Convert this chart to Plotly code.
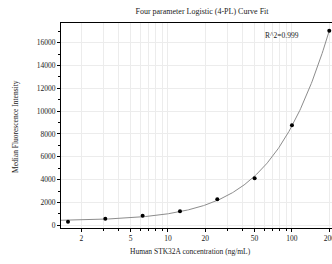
import numpy as np
import plotly.graph_objects as go

# Data
conc = [1.5625, 3.125, 6.25, 12.5, 25, 50, 100, 200]
mfi = [315, 578, 841, 1226, 2278, 4117, 8760, 17047]
x_tick_vals = [2, 5, 10, 20, 50, 100, 200]
x_tick_text = ["2", "5", "10", "20", "50", "100", "200"]
y_tick_vals = [0, 2000, 4000, 6000, 8000, 10000, 12000, 14000, 16000]
y_tick_text = ["0", "2000", "4000", "6000", "8000", "10000", "12000", "14000", "16000"]
r2_label = "R^2=0.999"

# 4PL fit: y = D + (A - D) / (1 + (x/C)^B); grid search over B, C, linear LS for A, D
xd = np.array(conc, dtype=float)
yd = np.array(mfi, dtype=float)
best = None
for B in np.linspace(0.5, 3.0, 126):
    for logC in np.linspace(0.5, 6.0, 221):
        C = 10 ** logC
        g = 1.0 / (1.0 + (xd / C) ** B)
        M = np.column_stack([g, 1 - g])
        coef, *_ = np.linalg.lstsq(M, yd, rcond=None)
        res = np.sum((M @ coef - yd) ** 2)
        if best is None or res < best[0]:
            best = (res, B, C, coef[0], coef[1])
_, B, C, A, D = best
xf = np.logspace(np.log10(1.37), np.log10(200), 300)
yf = D + (A - D) / (1 + (xf / C) ** B)

serif = "Liberation Serif"
txt = "#1a1a1a"
fig = go.Figure()
fig.add_trace(go.Scatter(x=xf, y=yf, mode="lines",
                         line=dict(color="#8c8c8c", width=1), hoverinfo="skip"))
fig.add_trace(go.Scatter(x=conc, y=mfi, mode="markers", cliponaxis=False,
                         marker=dict(color="black", size=4)))

minor_x = [v * m for m in (1, 10, 100) for v in range(1, 10)]
minor_x = [v for v in minor_x if 1.3 < v < 220]

W, H = 332, 264
L, T, R, Bm = 61, 23, 0, 36
pw, ph = W - L - R, H - T - Bm

fig.update_layout(
    width=W, height=H,
    margin=dict(l=L, r=R, t=T, b=Bm),
    paper_bgcolor="white", plot_bgcolor="white",
    showlegend=False, hovermode=False,
    font=dict(family=serif, size=7.5, color=txt),
    title=dict(text="Four parameter Logistic (4-PL) Curve Fit",
               x=202 / W, xanchor="center", y=1 - 11 / H, yanchor="middle",
               font=dict(family=serif, size=8, color=txt)),
    xaxis=dict(
        type="log", range=[0.1374, 2.323], automargin=False,
        tickmode="array", tickvals=x_tick_vals, ticktext=x_tick_text,
        ticklabeloverflow="allow",
        ticks="outside", ticklen=3, tickcolor="black",
        showline=True, linecolor="black", linewidth=1, mirror=True,
        showgrid=True, gridcolor="#ececec", gridwidth=1,
        minor=dict(tickmode="array", tickvals=minor_x, ticks="outside",
                   ticklen=2, tickcolor="black", showgrid=True,
                   gridcolor="#ececec", gridwidth=1),
        zeroline=False,
        tickfont=dict(family=serif, size=7.5, color=txt),
    ),
    yaxis=dict(
        range=[-237, 17721], automargin=False,
        tickmode="array", tickvals=y_tick_vals, ticktext=y_tick_text,
        ticks="outside", ticklen=3, tickcolor="black",
        showline=True, linecolor="black", linewidth=1, mirror=True,
        showgrid=True, gridcolor="#ececec", gridwidth=1,
        minor=dict(dtick=1000, ticks="outside", ticklen=2,
                   tickcolor="black", showgrid=False),
        zeroline=False,
        tickfont=dict(family=serif, size=7.5, color=txt),
    ),
    annotations=[
        dict(x=1.919, y=16600, xref="x", yref="y", text=r2_label,
             showarrow=False, font=dict(family=serif, size=7.5, color=txt)),
        dict(x=(190 - L) / pw, y=-(251.5 - T - ph) / ph, xref="paper", yref="paper",
             text="Human STK32A concentration (ng/mL)", showarrow=False,
             xanchor="center", yanchor="middle",
             font=dict(family=serif, size=7.5, color=txt)),
        dict(x=(15 - L) / pw, y=1 - (127 - T) / ph, xref="paper", yref="paper",
             text="Median Fluorescence Intensity", showarrow=False, textangle=-90,
             xanchor="center", yanchor="middle",
             font=dict(family=serif, size=7.5, color=txt)),
    ],
)

fig.write_html(
    "out.html",
    config={"displayModeBar": False},
    post_script="document.body.style.margin='0';document.body.style.overflow='hidden';",
)
